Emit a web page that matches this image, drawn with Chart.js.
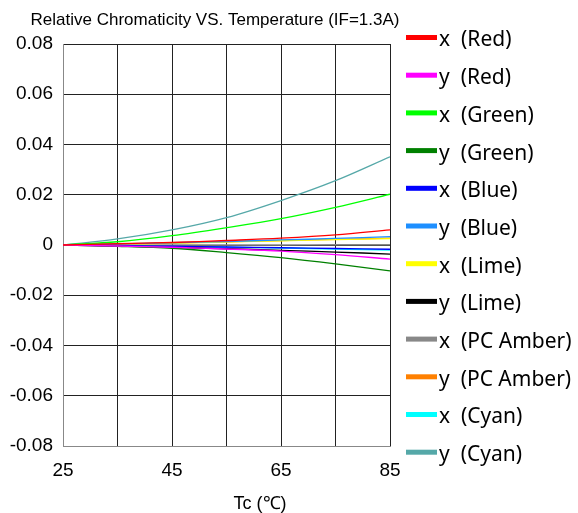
<!DOCTYPE html>
<html>
<head>
<meta charset="utf-8">
<script src="https://cdn.jsdelivr.net/npm/chart.js@4.4.0/dist/chart.umd.min.js"></script>
<style>
  html, body { margin: 0; padding: 0; background: #fff; }
  #wrap { width: 578px; height: 513px; position: relative; }
</style>
</head>
<body>
<div id="wrap"><canvas id="myChart" width="578" height="513"></canvas></div>
<script>
// temperature points (Tc, deg C)
var temps = [25, 35, 45, 55, 65, 75, 85];
var xTickLabels = [25, 45, 65, 85];
var yTickLabels = ['-0.08', '-0.06', '-0.04', '-0.02', '0', '0.02', '0.04', '0.06', '0.08'];

// relative chromaticity shift per series
var xRed      = [0, 0.0005, 0.0010, 0.0018, 0.0027, 0.0040, 0.0060];
var yRed      = [0, -0.0004, -0.0009, -0.0016, -0.0024, -0.0038, -0.0056];
var xGreen    = [0, 0.0013, 0.0037, 0.0069, 0.0105, 0.0150, 0.0202];
var yGreen    = [0, -0.0005, -0.0013, -0.0030, -0.0050, -0.0075, -0.0103];
var xBlue     = [0, -0.0002, -0.0005, -0.0008, -0.0011, -0.0014, -0.0017];
var yBlue     = [0, 0.0004, 0.0009, 0.0014, 0.0020, 0.0026, 0.0033];
var xLime     = [0, 0.0003, 0.0007, 0.0012, 0.0017, 0.0021, 0.0025];
var yLime     = [0, -0.0004, -0.0009, -0.0015, -0.0021, -0.0028, -0.0036];
var xPCAmber  = [0, 0, 0, 0, 0, 0.0001, 0.0001];
var yPCAmber  = [0, 0.0004, 0.0009, 0.0013, 0.0018, 0.0022, 0.0027];
var xCyan     = [0, -0.0002, -0.0005, -0.0009, -0.0012, -0.0016, -0.0020];
var yCyan     = [0, 0.0024, 0.0060, 0.0109, 0.0177, 0.0256, 0.0351];

var seriesNames = ['x  (Red)', 'y  (Red)', 'x  (Green)', 'y  (Green)', 'x  (Blue)', 'y  (Blue)',
                   'x  (Lime)', 'y  (Lime)', 'x  (PC Amber)', 'y  (PC Amber)', 'x  (Cyan)', 'y  (Cyan)'];
var seriesData = [xRed, yRed, xGreen, yGreen, xBlue, yBlue, xLime, yLime, xPCAmber, yPCAmber, xCyan, yCyan];
var seriesColors = ['#ff0000', '#ff00ff', '#00ff00', '#008000', '#0000ff', '#1e8fff',
                    '#ffff00', '#000000', '#888888', '#ff8000', '#00ffff', '#55a8a8'];

function toPoints(arr) {
  return arr.map(function(v, i) { return { x: temps[i], y: v }; });
}

var datasets = seriesData.map(function(arr, i) {
  return {
    label: seriesNames[i],
    data: toPoints(arr),
    borderColor: seriesColors[i],
    backgroundColor: seriesColors[i],
    borderWidth: 1.3,
    pointRadius: 0,
    tension: 0.35,
    fill: false
  };
});

// title, axis title and legend drawn by hand so they sit where the original has them
var extras = {
  id: 'extras',
  afterDraw: function(chart) {
    var c = chart.ctx;
    c.save();
    c.fillStyle = '#000';
    c.textBaseline = 'middle';
    c.textAlign = 'center';
    c.font = '17px "Liberation Sans", Arial, sans-serif';
    c.fillText('Relative Chromaticity VS. Temperature (IF=1.3A)', 215, 20);
    c.font = '18px "Liberation Sans", Arial, sans-serif';
    c.fillText('Tc (\u2103)', 260, 504);

    // legend
    c.textAlign = 'left';
    c.font = '21px "Noto Sans", sans-serif';
    chart.data.datasets.forEach(function(ds, i) {
      var yc = 37.5 + 37.7 * i;
      c.fillStyle = ds.borderColor;
      c.fillRect(406, yc - 2.5, 31, 5);
      c.fillStyle = '#000';
      c.fillText(ds.label, 439, yc + 3);
    });
    c.restore();
  }
};

var ctx = document.getElementById('myChart').getContext('2d');
var chart = new Chart(ctx, {
  type: 'line',
  data: { datasets: datasets },
  options: {
    responsive: false,
    animation: false,
    layout: { padding: { top: 44, right: 188, left: 0, bottom: 0 } },
    plugins: {
      legend: { display: false },
      title: { display: false },
      tooltip: { enabled: false }
    },
    scales: {
      x: {
        type: 'linear',
        min: 25,
        max: 85,
        afterFit: function(scale) { scale.height = 67; },
        afterBuildTicks: function(scale) {
          scale.ticks = temps.map(function(t) { return { value: t }; });
        },
        ticks: {
          padding: 13,
          color: '#000',
          maxRotation: 0,
          autoSkip: false,
          font: { family: '"Liberation Sans", Arial, sans-serif', size: 19 },
          callback: function(v) { return xTickLabels.indexOf(v) >= 0 ? String(v) : ''; }
        },
        grid: { color: '#222', lineWidth: 1, drawTicks: false },
        border: { color: '#888', width: 1 }
      },
      y: {
        min: -0.08,
        max: 0.08,
        afterFit: function(scale) { scale.width = 63; },
        afterBuildTicks: function(scale) {
          scale.ticks = yTickLabels.map(function(s) { return { value: parseFloat(s) }; });
        },
        ticks: {
          padding: 10,
          color: '#000',
          font: { family: '"Liberation Sans", Arial, sans-serif', size: 19 },
          callback: function(v, i) { return yTickLabels[i]; }
        },
        grid: { color: '#222', lineWidth: 1, drawTicks: false },
        border: { color: '#888', width: 1 }
      }
    }
  },
  plugins: [extras]
});
</script>
</body>
</html>
